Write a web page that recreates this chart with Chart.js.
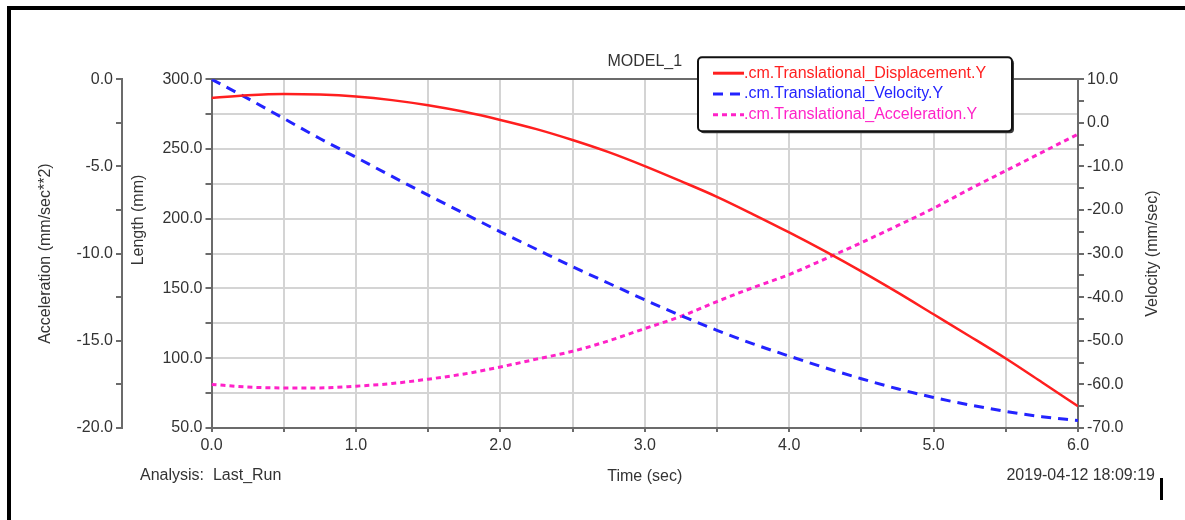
<!DOCTYPE html>
<html>
<head>
<meta charset="utf-8">
<title>MODEL_1</title>
<script src="https://cdn.jsdelivr.net/npm/chart.js@4.4.1/dist/chart.umd.min.js"></script>
<style>
  html, body { margin: 0; padding: 0; background: #fff; }
  #wrap { position: relative; width: 1185px; height: 520px; overflow: hidden; }
  #frame { position: absolute; left: 7px; top: 6px; right: -10px; bottom: -10px; border-left: 4px solid #000; border-top: 4px solid #000; }
  #cursor { position: absolute; left: 1160px; top: 478px; width: 3px; height: 22px; background: #000; }
  #chart { position: absolute; left: 0; top: 0; }
</style>
</head>
<body>
<div id="wrap">
  <div id="frame"></div>
  <div id="cursor"></div>
  <canvas id="chart" width="1185" height="520"></canvas>
</div>
<script>
// time samples (sec)
const times = [0, 0.25, 0.5, 0.75, 1.0, 1.25, 1.5, 1.75, 2.0, 2.25, 2.5, 2.75, 3.0,
               3.25, 3.5, 3.75, 4.0, 4.25, 4.5, 4.75, 5.0, 5.25, 5.5, 5.75, 6.0];

// .cm.Translational_Displacement.Y  (mm)
const displacement = [286.6, 288.5, 289.4, 289.0, 287.6, 285.0, 281.3, 276.6, 270.8, 264.2,
                      256.4, 247.7, 237.7, 226.9, 215.7, 203.2, 190.2, 176.6, 162.3, 147.2,
                      131.5, 115.8, 99.8, 82.8, 65.6];

// .cm.Translational_Velocity.Y  (mm/sec)
const velocity = [10.0, 5.6, 1.0, -3.6, -7.9, -12.3, -16.6, -20.8, -25.0, -29.0,
                  -33.0, -36.8, -40.6, -44.2, -47.6, -50.7, -53.5, -56.2, -58.7, -61.0,
                  -63.0, -64.7, -66.2, -67.4, -68.3];

// .cm.Translational_Acceleration.Y  (mm/sec**2)
const acceleration = [-17.5, -17.65, -17.7, -17.7, -17.6, -17.45, -17.2, -16.9, -16.5, -16.05,
                      -15.6, -15.0, -14.3, -13.6, -12.75, -11.95, -11.2, -10.3, -9.37, -8.4,
                      -7.4, -6.3, -5.25, -4.2, -3.15];

const seriesLabels = ['.cm.Translational_Displacement.Y', '.cm.Translational_Velocity.Y', '.cm.Translational_Acceleration.Y'];
const seriesColors = ['#ff1f1f', '#2323ff', '#ff22c8'];

const AXIS = '#6b6b6b';
const GRID = '#d4d4d4';
const TEXT = '#333333';
const FONT = { family: "'Liberation Sans', Arial, sans-serif", size: 16 };

const toPoints = vals => vals.map((v, i) => ({ x: times[i], y: v }));
const fmt1 = v => v.toFixed(1);

function drawUpText(ctx, text, x, y) {
  ctx.save();
  ctx.translate(x, y);
  ctx.rotate(-Math.PI / 2);
  ctx.textAlign = 'center';
  ctx.textBaseline = 'middle';
  ctx.fillText(text, 0, 0);
  ctx.restore();
}

// legend box drawn over the plot, the rotated side titles and the footer notes
const plotNotes = {
  id: 'plotNotes',
  afterDraw(chart) {
    const { ctx, chartArea } = chart;
    const x = chartArea.right - 380, y = chartArea.top - 22, w = 314, h = 74;
    ctx.save();

    ctx.fillStyle = '#3a3a3a';
    ctx.beginPath(); ctx.roundRect(x + 2, y + 2, w, h, 4); ctx.fill();
    ctx.fillStyle = '#fff';
    ctx.beginPath(); ctx.roundRect(x, y, w, h, 4); ctx.fill();
    ctx.lineWidth = 2; ctx.strokeStyle = '#111';
    ctx.stroke();

    ctx.font = `16px ${FONT.family}`;
    ctx.textBaseline = 'middle';
    chart.data.datasets.forEach((ds, i) => {
      const ly = y + 16 + i * 20.8;
      ctx.strokeStyle = ds.borderColor;
      ctx.lineWidth = 3;
      ctx.setLineDash(ds.borderDash || []);
      ctx.beginPath(); ctx.moveTo(x + 15, ly); ctx.lineTo(x + 46, ly); ctx.stroke();
      ctx.setLineDash([]);
      ctx.fillStyle = ds.borderColor;
      ctx.fillText(ds.label, x + 46, ly);
    });

    ctx.fillStyle = TEXT;
    // both inner side titles read bottom-to-top in the original
    drawUpText(ctx, 'Length (mm)', chartArea.left - 73, 220);
    drawUpText(ctx, 'Velocity (mm/sec)', chartArea.right + 75, (chartArea.top + chartArea.bottom) / 2);

    ctx.textAlign = 'left';
    ctx.fillText('Analysis:  Last_Run', 140, 476);
    ctx.textAlign = 'right';
    ctx.fillText('2019-04-12 18:09:19', 1155, 476);
    ctx.restore();
  }
};

new Chart(document.getElementById('chart'), {
  type: 'line',
  data: {
    datasets: [
      {
        label: seriesLabels[0], data: toPoints(displacement), yAxisID: 'y',
        borderColor: seriesColors[0], borderWidth: 2.5, borderDash: []
      },
      {
        label: seriesLabels[1], data: toPoints(velocity), yAxisID: 'yVel',
        borderColor: seriesColors[1], borderWidth: 3, borderDash: [10, 7]
      },
      {
        label: seriesLabels[2], data: toPoints(acceleration), yAxisID: 'yAcc',
        borderColor: seriesColors[2], borderWidth: 3, borderDash: [5, 4]
      }
    ]
  },
  options: {
    responsive: false,
    animation: false,
    devicePixelRatio: 1,
    layout: { padding: 0 },
    elements: {
      point: { radius: 0 },
      line: { cubicInterpolationMode: 'monotone', fill: false }
    },
    plugins: {
      legend: { display: false },
      tooltip: { enabled: false },
      title: {
        display: true, text: 'MODEL_1', fullSize: false, color: TEXT, font: { ...FONT, weight: 'normal' },
        padding: { top: 52, bottom: 8 }
      }
    },
    scales: {
      x: {
        type: 'linear', min: 0, max: 6,
        afterFit: s => { s.height = 92; },
        ticks: {
          stepSize: 0.5, autoSkip: false, maxRotation: 0, padding: 4, color: TEXT, font: FONT,
          callback: v => (Math.abs(v % 1) < 1e-9 ? fmt1(v) : '')
        },
        grid: {
          color: c => (c.tick && (c.tick.value === 0 || c.tick.value === 6) ? AXIS : GRID),
          lineWidth: 2, tickColor: AXIS, tickLength: 4
        },
        border: { color: AXIS, width: 2 },
        title: { display: true, text: 'Time (sec)', color: TEXT, font: FONT, padding: { top: 0, bottom: 34 } }
      },
      yAcc: {
        type: 'linear', position: 'left', weight: 2, min: -20, max: 0,
        afterFit: s => { s.width = 122; },
        ticks: {
          stepSize: 2.5, autoSkip: false, padding: 3, color: TEXT, font: FONT,
          callback: v => (v % 5 === 0 ? fmt1(v) : '')
        },
        grid: { drawOnChartArea: false, tickLength: 6, tickColor: AXIS, lineWidth: 2 },
        border: { color: AXIS, width: 2 },
        title: { display: true, text: 'Acceleration (mm/sec**2)', color: TEXT, font: FONT, padding: { top: 36, bottom: 0 } }
      },
      y: {
        type: 'linear', position: 'left', weight: 1, min: 50, max: 300,
        afterFit: s => { s.width = 89.5; },
        ticks: {
          stepSize: 25, autoSkip: false, padding: 3, color: TEXT, font: FONT,
          callback: v => (v % 50 === 0 ? fmt1(v) : '')
        },
        grid: {
          color: c => (c.tick && c.tick.value === 300 ? AXIS : GRID),
          lineWidth: 2, tickColor: AXIS, tickLength: 6
        },
        border: { color: AXIS, width: 2 },
        title: { display: false, text: 'Length (mm)' }
      },
      yVel: {
        type: 'linear', position: 'right', min: -70, max: 10,
        afterFit: s => { s.width = 107; },
        ticks: {
          stepSize: 5, autoSkip: false, padding: 3, color: TEXT, font: FONT,
          callback: v => (v % 10 === 0 ? fmt1(v) : '')
        },
        grid: { drawOnChartArea: false, tickLength: 6, tickColor: AXIS, lineWidth: 2 },
        border: { color: AXIS, width: 2 },
        title: { display: false, text: 'Velocity (mm/sec)' }
      }
    }
  },
  plugins: [plotNotes]
});
</script>
</body>
</html>
